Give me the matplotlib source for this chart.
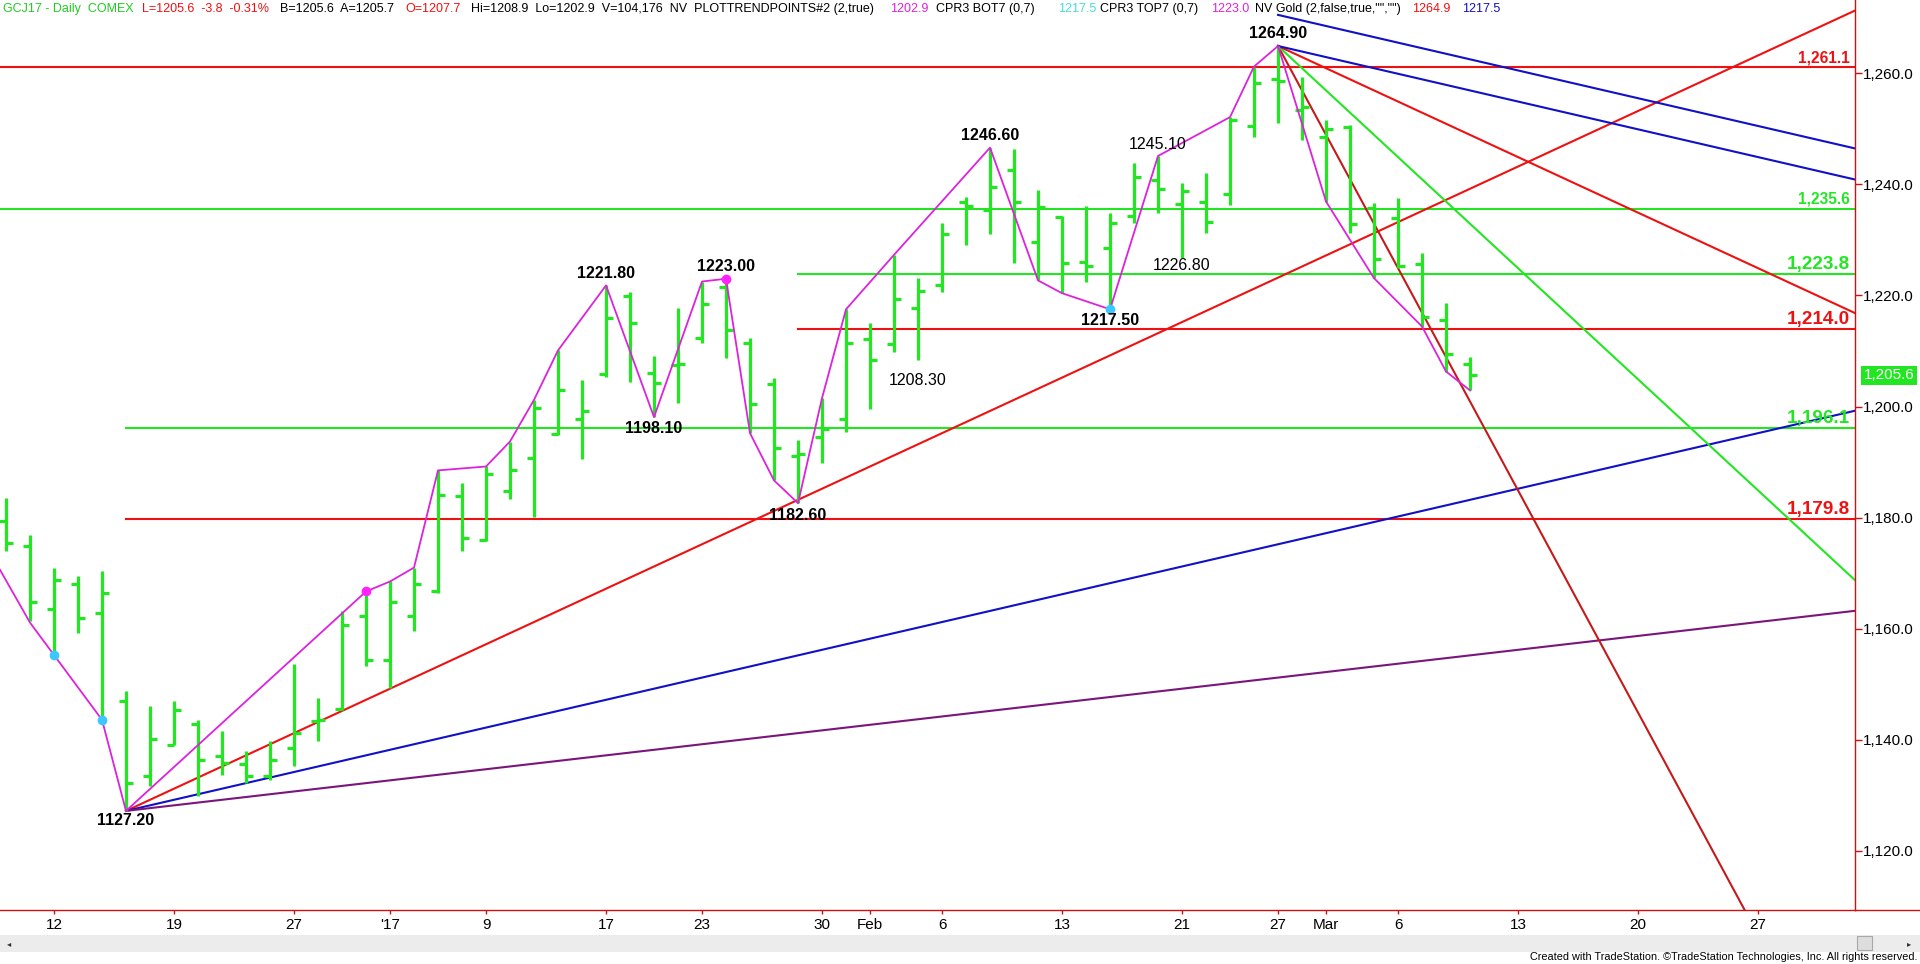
import matplotlib
matplotlib.use("Agg")
import matplotlib.pyplot as plt
from matplotlib.patches import Rectangle
from matplotlib.lines import Line2D
from matplotlib.ticker import FixedLocator, FuncFormatter

plt.rcParams['font.family'] = ['Liberation Sans', 'DejaVu Sans']

# Figure size in pixels
W, H, DPI = 1920, 964, 100

# Daily GCJ17 bars, Dec 8 2016 .. Mar 9 2017 (one entry per trading day)
opens = [1179.3, 1174.9, 1163.6, 1168.0, 1162.9, 1147.0, 1133.5, 1139.1, 1142.8, 1137.1,
         1135.6, 1133.4, 1138.6, 1143.4, 1145.5, 1162.2, 1154.4, 1162.2, 1166.7, 1183.8,
         1176.0, 1184.8, 1190.7, 1195.0, 1197.7, 1205.9, 1219.9, 1206.0, 1207.5, 1212.3,
         1221.5, 1211.4, 1204.1, 1191.0, 1194.6, 1197.7, 1212.1, 1211.3, 1217.7, 1221.9,
         1236.9, 1235.3, 1242.6, 1229.6, 1234.2, 1226.1, 1228.5, 1234.3, 1240.8, 1236.5,
         1236.8, 1238.3, 1250.5, 1258.9, 1253.3, 1248.6, 1250.3, 1235.7, 1233.9, 1225.6,
         1215.6, 1207.7]
highs = [1183.5, 1176.9, 1170.9, 1169.4, 1170.3, 1148.7, 1146.0, 1146.9, 1143.6, 1141.5,
         1138.0, 1139.7, 1153.6, 1147.6, 1163.1, 1166.7, 1168.5, 1171.0, 1188.5, 1186.3,
         1189.2, 1193.7, 1201.2, 1210.1, 1204.7, 1221.8, 1220.7, 1209.1, 1217.7, 1222.5,
         1223.0, 1212.3, 1205.1, 1194.0, 1201.5, 1217.5, 1215.1, 1227.3, 1223.1, 1233.0,
         1237.8, 1246.6, 1246.3, 1238.9, 1234.3, 1236.1, 1234.9, 1243.8, 1245.1, 1240.3,
         1242.0, 1252.1, 1261.2, 1264.9, 1259.4, 1251.6, 1250.7, 1236.7, 1237.5, 1227.6,
         1218.6, 1208.9]
lows = [1173.9, 1161.3, 1155.6, 1159.2, 1143.6, 1127.2, 1131.6, 1139.0, 1129.8, 1133.7,
        1132.2, 1132.8, 1135.3, 1139.7, 1145.3, 1153.2, 1149.3, 1159.5, 1166.5, 1174.0,
        1175.7, 1183.3, 1180.1, 1194.9, 1190.5, 1205.4, 1204.5, 1198.1, 1200.7, 1211.5,
        1208.8, 1195.2, 1186.7, 1182.6, 1189.8, 1195.5, 1199.5, 1209.9, 1208.3, 1220.7,
        1229.1, 1231.1, 1225.9, 1222.7, 1220.4, 1222.5, 1217.5, 1233.0, 1234.9, 1226.8,
        1231.2, 1236.2, 1248.5, 1251.1, 1248.0, 1236.9, 1231.2, 1223.1, 1224.9, 1214.4,
        1206.3, 1202.9]
closes = [1175.5, 1164.8, 1168.8, 1162.0, 1166.5, 1132.3, 1140.1, 1145.4, 1136.4, 1135.8,
          1133.4, 1136.4, 1141.2, 1143.5, 1160.7, 1154.4, 1164.8, 1168.0, 1184.1, 1176.3,
          1187.8, 1188.6, 1199.7, 1202.9, 1199.2, 1215.9, 1215.0, 1204.2, 1207.7, 1218.5,
          1213.7, 1200.5, 1192.5, 1191.5, 1195.9, 1211.4, 1208.4, 1219.3, 1220.8, 1231.0,
          1236.1, 1239.5, 1236.8, 1236.0, 1225.8, 1225.3, 1233.1, 1241.4, 1239.1, 1238.8,
          1233.2, 1251.6, 1258.2, 1258.6, 1253.9, 1249.9, 1232.9, 1226.5, 1225.3, 1216.1,
          1209.5, 1205.6]

# Date axis (bar index -> label)
tick_pos = [2, 7, 12, 16, 20, 25, 29, 34, 36, 39, 44, 49, 53, 55, 58, 63, 68, 73]
tick_labels = ["12", "19", "27", "'17", "9", "17", "23", "30", "Feb", "6",
               "13", "21", "27", "Mar", "6", "13", "20", "27"]
price_ticks = [1120, 1140, 1160, 1180, 1200, 1220, 1240, 1260]

# Horizontal support / resistance levels
level_prices = [1261.1, 1235.6, 1223.8, 1214.0, 1196.1, 1179.8]
level_start = [-1, -1, 33, 33, 5, 5]
level_kind = ["red", "green", "green", "red", "green", "red"]
level_big = [False, False, True, True, True, True]

# Gann style angle lines: anchor bar, anchor price, slope (price per bar)
fan_bar = [5, 5, 5, 53, 53, 53, 53, 53]
fan_price = [1127.2, 1127.2, 1127.2, 1264.9, 1264.9, 1264.9, 1264.9, 1270.5]
fan_slope = [2.0, 1.0, 0.5, -8.0, -4.0, -2.0, -1.0, -1.0]
fan_kind = ["red", "blue", "purple", "darkred", "green", "red", "blue", "blue"]

# Swing (trend points) line
swing_bar = [-0.25, 1, 4, 5, 15, 16, 17, 18, 20, 21, 22, 23, 25, 27, 29, 30, 31, 32, 33,
             34, 35, 37, 41, 43, 44, 46, 48, 51, 52, 53, 55, 57, 59, 60, 61]
swing_price = [1170.6, 1161.1, 1143.6, 1127.2, 1166.7, 1168.5, 1171.0, 1188.5, 1189.2,
               1193.7, 1201.2, 1210.1, 1221.8, 1198.1, 1222.5, 1223.0, 1195.2, 1186.7,
               1182.6, 1201.5, 1217.5, 1227.3, 1246.6, 1222.7, 1220.4, 1217.5, 1245.1,
               1252.1, 1261.2, 1264.9, 1236.9, 1223.1, 1214.4, 1206.3, 1202.9]
cyan_bar = [2, 4, 46]
cyan_price = [1155.3, 1143.6, 1217.5]
pink_bar = [15, 30]
pink_price = [1166.7, 1223.0]

# Pivot labels
pivot_bar = [5, 25, 27, 30, 33, 38, 41, 48, 46, 49, 53]
pivot_price = [1127.2, 1221.8, 1198.1, 1223.0, 1182.6, 1208.3, 1246.6, 1245.1, 1217.5, 1226.8, 1264.9]
pivot_strong = [True, True, True, True, True, False, True, False, True, False, True]
pivot_shift = [-10, 12, -11, 12, -12, -20, 12, 11, -11, -8, 12]

COL = {"red": "#ee1111", "green": "#22e622", "blue": "#1010c8", "purple": "#7a167a",
       "darkred": "#c41a1a", "magenta": "#dd22dd"}
BAR = "#22e622"
AXCOL = "#cc1111"

fig = plt.figure(figsize=(W / DPI, H / DPI), dpi=DPI)
fig.patch.set_facecolor("white")

# plot area: x 0..1855 px, y 0..910 px from top
ax = fig.add_axes([0, (H - 910) / H, 1855 / W, 910 / H])
x_lo, x_hi = -0.25, 77.04
ax.set_xlim(x_lo, x_hi)
ax.set_ylim(1109.36, 1273.18)

# horizontal levels
for p, s, k in zip(level_prices, level_start, level_kind):
    start = x_lo if s < 0 else s
    ax.plot([start, x_hi], [p, p], color=COL[k], lw=1.5, zorder=1)

# angle lines
for b, p, sl, k in zip(fan_bar, fan_price, fan_slope, fan_kind):
    ax.plot([b, x_hi], [p, p + sl * (x_hi - b)], color=COL[k], lw=1.5, zorder=1)

# OHLC bars
idx = list(range(len(closes)))
ax.vlines(idx, lows, highs, color=BAR, lw=2.3, zorder=2)
ax.hlines(opens, [i - 0.3 for i in idx], idx, color=BAR, lw=2.3, zorder=2)
ax.hlines(closes, idx, [i + 0.3 for i in idx], color=BAR, lw=2.3, zorder=2)

# swing line + markers
ax.plot(swing_bar, swing_price, color=COL["magenta"], lw=1.3, zorder=3)
ax.plot(cyan_bar, cyan_price, "o", color="#3cc8ff", ms=6, zorder=4)
ax.plot(pink_bar, pink_price, "o", color="#ff22ff", ms=6, zorder=4)

# pivot labels
for b, p, strong, dy in zip(pivot_bar, pivot_price, pivot_strong, pivot_shift):
    ax.annotate(f"{p:.2f}", (b, p), xytext=(0, dy), textcoords="offset pixels",
                ha="center", va="center", fontsize=11.5,
                fontweight="bold" if strong else "normal", color="black", zorder=5)

# level labels at right edge
for p, k, big in zip(level_prices, level_kind, level_big):
    ax.annotate(f"{p:,.1f}", (1, p), xycoords=("axes fraction", "data"),
                xytext=(-5, 5), textcoords="offset pixels", ha="right", va="baseline",
                fontsize=13.6 if big else 11.2, fontweight="bold", color=COL[k], zorder=5)

# axes styling
for side in ["left", "top"]:
    ax.spines[side].set_visible(False)
for side in ["right", "bottom"]:
    ax.spines[side].set_color(AXCOL)
    ax.spines[side].set_linewidth(1.0)
ax.yaxis.tick_right()
ax.yaxis.set_major_locator(FixedLocator(price_ticks))
ax.yaxis.set_major_formatter(FuncFormatter(lambda v, _: f"{v:,.1f}"))
ax.tick_params(axis="y", direction="out", length=5, width=1, color=AXCOL,
               labelsize=11, labelcolor="black", pad=1)
ax.xaxis.set_major_locator(FixedLocator(tick_pos))
ax.set_xticklabels(tick_labels, fontsize=11)
ax.tick_params(axis="x", direction="out", length=3, width=1, color=AXCOL, pad=3)
ax.set_facecolor("white")

# last price tag
ax.annotate(f"{closes[-1]:,.1f}", (1, closes[-1]), xycoords=("axes fraction", "data"),
            xytext=(34, 0), textcoords="offset pixels", ha="center", va="center",
            fontsize=11, color="white", annotation_clip=False,
            bbox=dict(boxstyle="square,pad=0.15", fc="#22e622", ec="none"))

# bottom axis line continues to the figure edge
fig.add_artist(Line2D([1855 / W, 1], [(H - 910) / H] * 2, color=AXCOL, lw=1.0))

# header line
header = [
    (3, "GCJ17 - Daily  COMEX", "#22cc22"),
    (142, "L=1205.6  -3.8  -0.31%", "#ee1111"),
    (280, "B=1205.6  A=1205.7", "black"),
    (405, "O=1207.7", "#ee1111"),
    (471, "Hi=1208.9  Lo=1202.9  V=104,176  NV  PLOTTRENDPOINTS#2 (2,true)", "black"),
    (890, "1202.9", "#dd22dd"),
    (936, "CPR3 BOT7 (0,7)", "black"),
    (1058, "1217.5", "#44dddd"),
    (1100, "CPR3 TOP7 (0,7)", "black"),
    (1211, "1223.0", "#dd22dd"),
    (1255, 'NV Gold (2,false,true,"","")', "black"),
    (1412, "1264.9", "#ee1111"),
    (1462, "1217.5", "#1010c8"),
]
for x, s, c in header:
    fig.text(x / W, 1 - 9 / H, s, color=c, fontsize=9.0, ha="left", va="center")

# scroll bar
fig.add_artist(Rectangle((0, (H - 952) / H), 1, 17 / H, transform=fig.transFigure,
                         fc="#ececec", ec="none"))
fig.add_artist(Rectangle((1857 / W, (H - 950) / H), 15 / W, 14 / H, transform=fig.transFigure,
                         fc="#dddddd", ec="#a8a8a8", lw=0.8))
fig.text(1909 / W, 1 - 943.5 / H, "\u25b8", fontsize=6, color="#333333",
         fontfamily="DejaVu Sans", ha="center", va="center")
fig.text(9 / W, 1 - 943.5 / H, "\u25c2", fontsize=6, color="#333333",
         fontfamily="DejaVu Sans", ha="center", va="center")

fig.text(1918 / W, 1 - 957 / H,
         "Created with TradeStation. \u00a9TradeStation Technologies, Inc. All rights reserved.",
         fontsize=7.8, ha="right", va="center", color="black")

fig.savefig("out.png", dpi=DPI)
